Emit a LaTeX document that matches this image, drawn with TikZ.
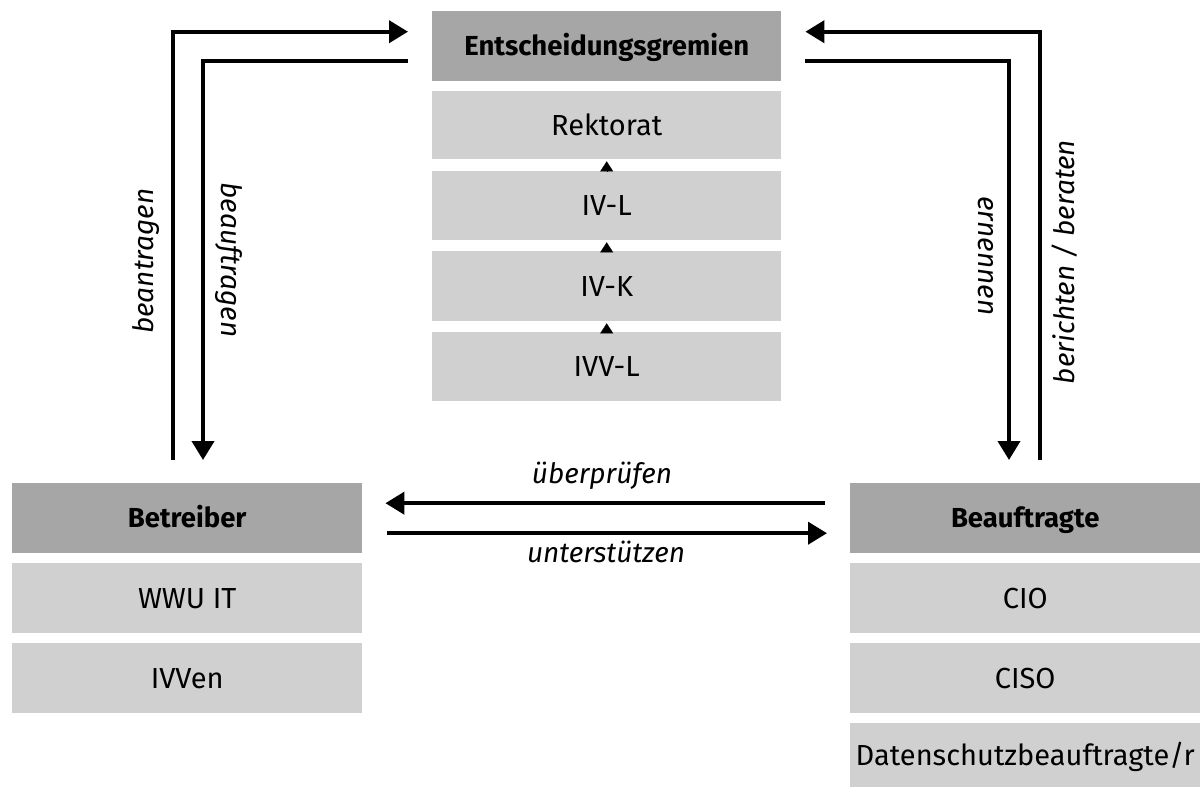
\documentclass[tikz,border=0pt]{standalone}
\usepackage{fontspec}
\setmainfont{Fira Sans}
\usetikzlibrary{arrows.meta,calc}
\definecolor{hdrgray}{RGB}{166,166,166}
\definecolor{itemgray}{RGB}{208,208,208}
\begin{document}
\begin{tikzpicture}[x=1pt,y=-1pt,
  box/.style={anchor=north west, inner sep=0pt, text depth=0pt},
  hdr/.style={box, fill=hdrgray, minimum width=350pt, minimum height=70pt,
              text height=19pt, font=\fontsize{27.5}{27.5}\selectfont\bfseries},
  item/.style={box, fill=itemgray, minimum width=350pt, minimum height=70pt,
               text height=20.5pt, font=\fontsize{29}{29}\selectfont},
  arr/.style={line width=4pt, -{Triangle[length=19pt,width=22pt]}},
  tri/.style={line width=0.1pt, shorten >=2pt, -{Triangle[length=10pt,width=13pt]}},
  lbl/.style={inner sep=0pt, font=\fontsize{28}{28}\selectfont\itshape}]

\useasboundingbox (0,0) rectangle (1204,787);

% decision bodies
\node[hdr,  minimum width=349pt] (ent)  at (432,11)  {Entscheidungsgremien};
\node[item, minimum width=349pt, minimum height=68pt] (rek) at (432,91) {Rektorat};
\node[item, minimum width=349pt, minimum height=69pt] (ivl) at (432,171) {IV-L};
\node[item, minimum width=349pt] (ivk)  at (432,251) {IV-K};
\node[item, minimum width=349pt, minimum height=69pt] (ivvl) at (432,332) {IVV-L};

\draw[tri] (ivl.north)  -- (rek.south);
\draw[tri] (ivk.north)  -- (ivl.south);
\draw[tri] (ivvl.north) -- (ivk.south);

% operators
\node[hdr]  (betr)  at (12,483) {Betreiber};
\node[item] (wwu)   at (12,563) {WWU IT};
\node[item] (ivven) at (12,643) {IVVen};

% appointed officers
\node[hdr]  (beauf) at (850,483) {Beauftragte};
\node[item] (cio)   at (850,563) {CIO};
\node[item] (ciso)  at (850,643) {CISO};
\node[item, minimum height=64pt] (dsb) at (850,723) {Datenschutzbeauftragte/r};

% left pair of connectors
\draw[arr] ($(betr.north west)+(161,-23)$) |- ($(ent.west)+(-24,-14.5)$);
\draw[arr] ($(ent.west)+(-24,14.5)$) -| ($(betr.north west)+(191,-23)$);

% right pair of connectors
\draw[arr] ($(beauf.north west)+(190,-23)$) |- ($(ent.east)+(24,-14.5)$);
\draw[arr] ($(ent.east)+(24,14.5)$) -| ($(beauf.north west)+(159,-23)$);

% horizontal connectors
\draw[arr] ($(beauf.west)+(-25,-15)$) -- ($(betr.east)+(23,-15)$);
\draw[arr] ($(betr.east)+(25,15)$) -- ($(beauf.west)+(-23,15)$);

% connector labels
\node[lbl, anchor=base] (l1) at (602,483) {überprüfen};
\node[lbl, anchor=base] (l2) at (606,562) {unterstützen};
\node[lbl, rotate=90]  (l3) at (146,261) {beantragen};
\node[lbl, rotate=-90] (l4) at (229,260) {beauftragen};
\node[lbl, rotate=-90] (l5) at (986,256) {ernennen};
\node[lbl, rotate=90]  (l6) at (1065,262) {berichten / beraten};
\end{tikzpicture}
\end{document}
